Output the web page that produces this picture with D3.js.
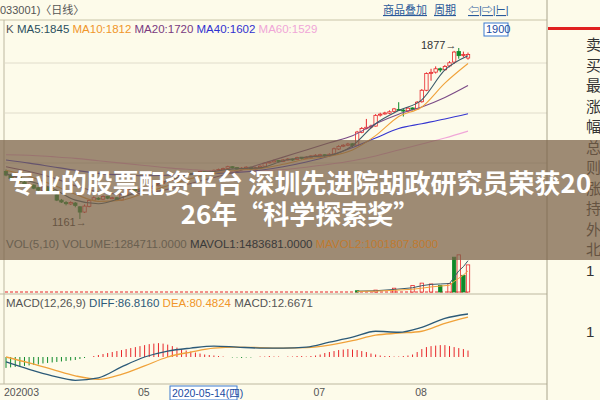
<!DOCTYPE html>
<html><head><meta charset="utf-8">
<script src="https://cdn.jsdelivr.net/npm/d3@7"></script>
<style>body{margin:0;background:#fdfbea;font-family:"Liberation Sans","Noto Sans CJK SC",sans-serif}</style>
</head><body><div id="root"></div>
<script>
'use strict';

// daily candles, 2020-03 .. 2020-08
const opens  = [1360,1345,1328,1336,1316,1298,1303,1292,1280,1293,1280,1262,1240,1230,1224,1228,1212,1190,1214,1240,1248,1244,1256,1246,1250,1240,1262,1284,1292,1280,1284,1292,1288,1300,1310,1318,1324,1332,1346,1350,1352,1348,1355,1360,1357,1362,1366,1368,1373,1380,1376,1370,1374,1378,1370,1376,1382,1396,1400,1406,1402,1408,1412,1410,1420,1414,1420,1424,1428,1430,1426,1433,1454,1466,1470,1476,1470,1524,1540,1546,1550,1596,1602,1604,1612,1620,1617,1614,1626,1622,1652,1700,1772,1776,1790,1786,1802,1818,1862,1848,1835];
const closes = [1345,1330,1338,1318,1300,1305,1290,1282,1295,1278,1270,1240,1232,1225,1230,1218,1190,1215,1238,1250,1245,1255,1248,1250,1242,1262,1285,1290,1280,1286,1292,1288,1300,1310,1318,1325,1332,1345,1350,1352,1348,1355,1360,1358,1362,1365,1368,1372,1380,1375,1370,1374,1378,1370,1376,1382,1395,1400,1405,1402,1408,1412,1410,1418,1415,1420,1425,1428,1430,1426,1432,1455,1465,1470,1475,1468,1525,1540,1545,1550,1595,1600,1605,1610,1622,1618,1615,1625,1620,1650,1700,1770,1775,1790,1785,1800,1815,1860,1845,1850,1850];
const highs  = [1368,1350,1342,1340,1320,1310,1306,1295,1300,1296,1284,1265,1245,1236,1235,1232,1215,1222,1242,1256,1252,1260,1258,1254,1252,1266,1290,1296,1292,1290,1296,1294,1304,1314,1322,1328,1336,1348,1354,1356,1354,1358,1364,1362,1366,1368,1372,1376,1384,1382,1378,1378,1382,1380,1380,1386,1398,1404,1410,1408,1412,1416,1414,1422,1420,1424,1428,1432,1434,1432,1436,1460,1470,1474,1480,1478,1530,1546,1580,1556,1600,1606,1610,1616,1626,1650,1622,1630,1628,1655,1705,1775,1790,1800,1795,1806,1822,1865,1877,1862,1858];
const lows   = [1340,1325,1322,1312,1295,1295,1286,1278,1276,1274,1265,1236,1228,1218,1220,1210,1161,1186,1210,1236,1240,1240,1244,1244,1236,1238,1260,1282,1276,1278,1282,1284,1284,1298,1306,1314,1320,1330,1342,1346,1344,1345,1352,1354,1355,1360,1364,1366,1370,1372,1366,1368,1372,1366,1368,1372,1380,1394,1398,1398,1400,1406,1404,1408,1410,1412,1418,1422,1424,1420,1424,1430,1450,1462,1466,1462,1468,1520,1536,1540,1548,1590,1598,1600,1606,1614,1590,1608,1616,1618,1648,1696,1740,1770,1776,1782,1796,1810,1832,1838,1828];

// moving averages sampled every 5 days
const ma5  = [1350,1320,1290,1240,1225,1250,1285,1320,1350,1360,1372,1375,1405,1420,1428,1468,1560,1615,1660,1785,1845];
const ma10 = [1365,1340,1305,1265,1235,1240,1270,1300,1330,1352,1365,1372,1390,1412,1424,1450,1510,1590,1630,1730,1812];
const ma20 = [1380,1360,1335,1300,1275,1265,1270,1285,1310,1335,1360,1390,1420,1450,1480,1510,1560,1600,1630,1670,1720];
const ma40 = [1408,1395,1380,1365,1352,1345,1342,1344,1348,1352,1356,1365,1380,1400,1425,1460,1500,1540,1560,1580,1602];
const ma60 = [1430,1428,1422,1415,1405,1395,1385,1375,1368,1362,1360,1362,1368,1378,1390,1405,1425,1450,1475,1500,1529];

// volume (only the last weeks are visible), index of day -> value
const volDays = [76,80,84,88,90,92,94,96,97,98,99,100];
const volVals = [60000,90000,180000,310000,420000,380000,310000,400000,1650000,1760000,790000,1284711];
const volUp   = [false,true,true,true,true,true,false,true,false,true,false,true];
const mavol1  = [40000,60000,120000,200000,300000,360000,380000,400000,700000,1000000,1200000,1483681];
const mavol2  = [30000,40000,80000,130000,180000,240000,280000,320000,500000,650000,800000,1001807];

// MACD
const hist = [-22,-21,-20,-19,-18,-17,-16,-15,-13,-12,-11,-10,-9,-8,-7,-6,-4,-2,0,2,4,6,8,10,12,14,16,18,20,22,24,26,27,28,27,25,22,19,16,13,11,9,7,5,4,3,2,1,0,-1,-1,-2,-1,-1,0,1,1,2,1,1,0,1,1,2,2,1,2,3,5,8,10,12,14,15,16,15,14,12,10,7,5,3,2,2,1,1,2,3,5,10,16,20,22,23,24,24,22,20,18,16,13];
const diff = [-10,-25,-38,-47,-42,-20,0,12,18,22,20,18,18,20,30,40,52,50,60,78,86.8];
const dea  = [0,-12,-25,-38,-45,-35,-18,0,10,18,20,19,18,19,24,33,44,48,52,68,80.5];

const xTicks = [{i:0,t:'202003'},{i:29,t:'05'},{i:67,t:'07'},{i:89,t:'08'}];
const sideChars = ['卖','买','最','涨','幅','总','则','涨','持','外','北','1','','','1'];

const svg = d3.select('#root').append('svg').attr('width',600).attr('height',400)
  .style('font-family','"Liberation Sans","Noto Sans CJK SC",sans-serif');
svg.append('rect').attr('width',600).attr('height',400).attr('fill','#fdfbea');

const x = d3.scaleLinear().domain([0,100]).range([6,468]);
const xs = (d,k) => x(k*5);
const yP = d3.scaleLinear().domain([1161,1877]).range([219,48]);
const yV = d3.scaleLinear().domain([0,1800000]).range([292,254]);
const yM = d3.scaleLinear().domain([0,86.8]).range([357,314]);
const up = '#e8262a', dn = '#0e8a2a';

// frames & grid
svg.append('line').attr('x1',0).attr('x2',547).attr('y1',20).attr('y2',20).attr('stroke','#c9c4a8');
[63,113,163].forEach(g => svg.append('line').attr('x1',5).attr('x2',547).attr('y1',g).attr('y2',g).attr('stroke','#e0dccb'));
[294,384].forEach(g => svg.append('line').attr('x1',0).attr('x2',547).attr('y1',g).attr('y2',g).attr('stroke','#bdb8a0'));
svg.append('line').attr('x1',4).attr('x2',4).attr('y1',20).attr('y2',384).attr('stroke','#bdb8a0');
svg.append('line').attr('x1',547).attr('x2',547).attr('y1',0).attr('y2',400).attr('stroke','#a9a48c');

// top bar
svg.append('text').attr('x',0).attr('y',14).attr('font-size',11).attr('fill','#555').text('033001)〈日线〉');
[['商品叠加',383],['周期',434],['⇦|⇨|⊢|',468]].forEach(([t,px]) =>
  svg.append('text').attr('x',px).attr('y',14).attr('font-size',11).attr('fill','#2a5a9a')
     .attr('text-decoration','underline').text(t));

// candles
const idx = d3.range(opens.length);
const cg = svg.append('g');
cg.selectAll('line').data(idx).join('line')
  .attr('x1',i=>x(i)).attr('x2',i=>x(i)).attr('y1',i=>yP(highs[i])).attr('y2',i=>yP(lows[i]))
  .attr('stroke',i=>closes[i]>=opens[i]?up:dn);
cg.selectAll('rect').data(idx).join('rect')
  .attr('x',i=>x(i)-1.7).attr('width',3.4)
  .attr('y',i=>yP(Math.max(opens[i],closes[i])))
  .attr('height',i=>Math.max(1,Math.abs(yP(opens[i])-yP(closes[i]))))
  .attr('fill',i=>closes[i]>=opens[i]?'#fdfbea':dn)
  .attr('stroke',i=>closes[i]>=opens[i]?up:dn).attr('stroke-width',0.8);

const maLine = d3.line().x(xs).y(d=>yP(d)).curve(d3.curveMonotoneX);
[[ma60,'#f0a6d8'],[ma40,'#3535d0'],[ma20,'#7a4a86'],[ma10,'#f0a23a'],[ma5,'#3a5a6a']].forEach(([d,c]) =>
  svg.append('path').attr('d',maLine(d)).attr('fill','none').attr('stroke',c).attr('stroke-width',1.1));

svg.append('text').attr('x',421).attr('y',49).attr('font-size',11).attr('fill','#333').text('1877→');
svg.append('text').attr('x',52).attr('y',226).attr('font-size',11).attr('fill','#333').text('1161→');

const hdr = (y, parts) => {
  const t = svg.append('text').attr('x',6).attr('y',y).attr('font-size',11.5);
  parts.forEach(([s,c]) => t.append('tspan').attr('fill',c).text(s));
};
hdr(33,[['K  ','#555'],['MA5:1845 ','#2c5060'],['MA10:1812 ','#f0962a'],['MA20:1720 ','#7a3a80'],['MA40:1602 ','#3030d0'],['MA60:1529','#f0a6d8']]);
svg.append('rect').attr('x',484).attr('y',23).attr('width',24).attr('height',13).attr('fill','#fff').attr('stroke','#3a7ad0');
svg.append('text').attr('x',486).attr('y',33).attr('font-size',11).attr('fill','#1a4aa0').text('1900');
svg.append('rect').attr('x',548).attr('y',27).attr('width',52).attr('height',3).attr('fill','#e02020');

// volume
svg.append('line').attr('x1',5).attr('x2',470).attr('y1',292).attr('y2',292).attr('stroke',up).attr('stroke-dasharray','3,2');
svg.selectAll('.vb').data(volDays).join('rect').attr('class','vb')
  .attr('x',d=>x(d)-1.7).attr('width',3.4).attr('y',(d,k)=>yV(volVals[k])).attr('height',(d,k)=>292-yV(volVals[k]))
  .attr('fill',(d,k)=>volUp[k]?'#fdfbea':dn).attr('stroke',(d,k)=>volUp[k]?up:dn).attr('stroke-width',0.8);
svg.append('path').attr('d',d3.line().x((d,k)=>x(volDays[k])).y(d=>yV(d))(mavol1)).attr('fill','none').attr('stroke','#3a5a6a');
svg.append('path').attr('d',d3.line().x((d,k)=>x(volDays[k])).y(d=>yV(d))(mavol2)).attr('fill','none').attr('stroke','#f0a23a');

// MACD
svg.selectAll('.mb').data(hist).join('line').attr('class','mb')
  .attr('x1',(d,i)=>x(i)).attr('x2',(d,i)=>x(i)).attr('y1',yM(0)).attr('y2',d=>yM(d))
  .attr('stroke',d=>d>=0?up:dn).attr('stroke-width',1);
const mLine = d3.line().x(xs).y(d=>yM(d)).curve(d3.curveMonotoneX);
svg.append('path').attr('d',mLine(dea)).attr('fill','none').attr('stroke','#f0a23a').attr('stroke-width',1.3);
svg.append('path').attr('d',mLine(diff)).attr('fill','none').attr('stroke','#2c5a78').attr('stroke-width',1.3);
hdr(307,[['MACD(12,26,9) ','#555'],['DIFF:86.8160 ','#2c5a78'],['DEA:80.4824 ','#f0962a'],['MACD:12.6671','#555']]);

// date axis
xTicks.forEach(d => svg.append('text').attr('x',x(d.i)-2).attr('y',396).attr('font-size',10.5).attr('fill','#555').text(d.t));
svg.append('rect').attr('x',170).attr('y',386).attr('width',67).attr('height',14).attr('fill','#fff').attr('stroke','#3a7ad0');
svg.append('text').attr('x',172).attr('y',397).attr('font-size',10.5).attr('fill','#1a4aa0').text('2020-05-14(四)');

// side panel
sideChars.forEach((c,k) => svg.append('text').attr('x',586).attr('y',50+k*20.5).attr('font-size',15).attr('fill','#333').text(c));

// overlay banner
svg.append('rect').attr('x',0).attr('y',140).attr('width',600).attr('height',120).attr('fill','rgba(120,95,70,0.72)');
hdr(248,[['VOL(5,10) VOLUME:1284711.0000 ','#6a6050'],['MAVOL1:1483681.0000 ','#3a3a3a'],['MAVOL2:1001807.8000','#c07a30']]);
[['专业的股票配资平台 深圳先进院胡政研究员荣获20',193],['26年“科学探索奖”',224]].forEach(([t,y]) =>
  svg.append('text').attr('x',300).attr('y',y).attr('text-anchor','middle').attr('font-size',26)
     .attr('font-weight','bold').attr('fill','#fff').attr('font-family','"Noto Sans CJK SC",sans-serif').text(t));
</script></body></html>
